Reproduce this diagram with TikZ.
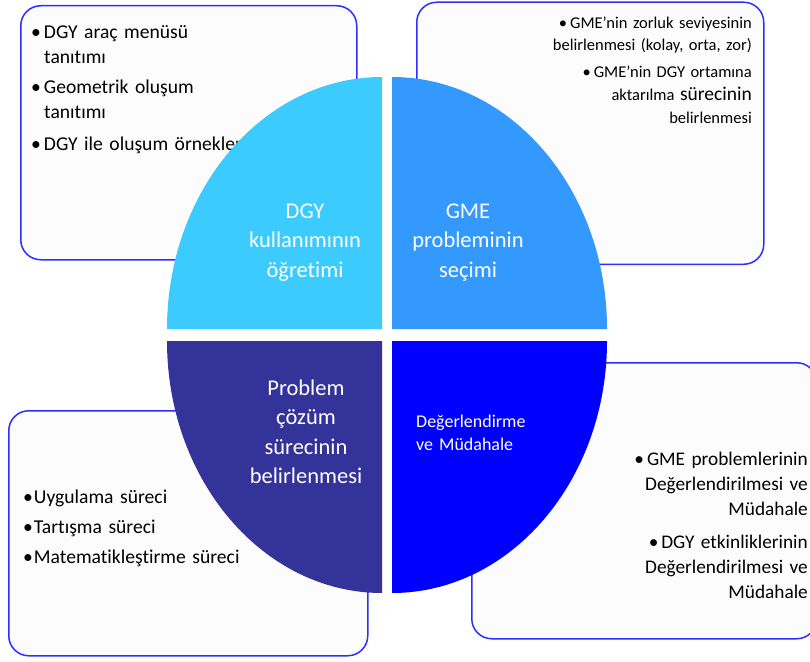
\documentclass[tikz,border=0pt]{standalone}
\usepackage{fontspec}
\setmainfont{Carlito}[Ligatures=NoCommon]
\usetikzlibrary{positioning}
\definecolor{qcyan}{HTML}{3CCBFF}
\definecolor{qsky}{HTML}{3399FF}
\definecolor{qnavy}{HTML}{333399}
\definecolor{qblue}{HTML}{0000FF}
\definecolor{boxline}{HTML}{2E2EFF}
\definecolor{boxfill}{HTML}{FCFCFC}
\newcommand\bul[1][3pt]{\textbullet\hspace{#1}}
\tikzset{
infobox/.style={%
    rectangle,
    rounded corners=20pt,
    draw=boxline,
    line width=1.5pt,
    fill=boxfill,
    inner sep=0pt,
    anchor=north west
},
itemtext/.style={%
    inner sep=0pt,
    text=black,
    font=\fontsize{19.6}{25}\selectfont
},
qlabel/.style={%
    inner sep=0pt,
    text=white,
    align=center,
    text width=150pt,
    anchor=base,
    font=\fontsize{22.5}{29.5}\selectfont
},
}

\begin{document}
\begin{tikzpicture}[x=1pt,y=-1pt]
	\useasboundingbox (0,0) rectangle (810,661);

	% the four info boxes
	\node[infobox, minimum width=336pt, minimum height=254pt] (tlbox) at (20,5) {};
	\node[infobox, minimum width=347pt, minimum height=262pt] (trbox) at (416,1.5) {};
	\node[infobox, minimum width=359pt, minimum height=245pt] (blbox) at (8,410) {};
	\node[infobox, minimum width=345pt, minimum height=276pt] (brbox) at (471,362) {};

	\node[itemtext, text width=320pt, align=left, anchor=base west] (tlitems) at (31,38)
		{\bul DGY araç menüsü\\ \hspace*{13pt}tanıtımı\\[5pt]
		 \bul Geometrik oluşum\\ \hspace*{13pt}tanıtımı\\[7pt]
		 \bul DGY ile oluşum örnekleri};
	\node[itemtext, font=\fontsize{16.5}{22}\selectfont, text width=300pt, align=right, anchor=base east] (tritems) at (752,29)
		{\bul GME’nin zorluk seviyesinin\\
		 belirlenmesi (kolay, orta, zor)\\[5pt]
		 \bul GME’nin DGY ortamına\\[1pt]
		 aktarılma {\fontsize{19.5}{22}\selectfont sürecinin}\\[1pt]
		 belirlenmesi};
	\node[itemtext, font=\fontsize{19.6}{30}\selectfont, text width=330pt, align=left, anchor=base west] (blitems) at (23,503)
		{\bul[1pt]Uygulama süreci\\
		 \bul[1pt]Tartışma süreci\\
		 \bul[1pt]Matematikleştirme süreci};
	\node[itemtext, font=\fontsize{19.3}{25}\selectfont, text width=320pt, align=right, anchor=base east] (britems) at (808,465)
		{\bul GME problemlerinin\\
		 Değerlendirilmesi ve\\
		 Müdahale\\[8pt]
		 \bul DGY etkinliklerinin\\
		 Değerlendirilmesi ve\\
		 Müdahale};

	% split ellipse in the middle
	\fill[qcyan] (382,329) -- ++(-215,0) arc[start angle=180, end angle=90, x radius=215pt, y radius=252pt] -- cycle;
	\fill[qsky] (392,329) -- ++(0,-252) arc[start angle=90, end angle=0, x radius=215pt, y radius=252pt] -- cycle;
	\fill[qnavy] (382,341) -- ++(-215,0) arc[start angle=180, end angle=270, x radius=215pt, y radius=252pt] -- cycle;
	\fill[qblue] (392,341) -- ++(0,252) arc[start angle=270, end angle=360, x radius=215pt, y radius=252pt] -- cycle;

	\node[qlabel] (teach) at (305,218) {DGY\\kullanımının\\öğretimi};
	\node[qlabel] (choose) at (468,218) {GME\\probleminin\\seçimi};
	\node[qlabel] (solve) at (306,395) {Problem\\çözüm\\sürecinin\\belirlenmesi};
	\node[qlabel, align=left, anchor=base west, font=\fontsize{18}{23.5}\selectfont] (assess) at (416,427) {Değerlendirme\\ve Müdahale};
\end{tikzpicture}
\end{document}
